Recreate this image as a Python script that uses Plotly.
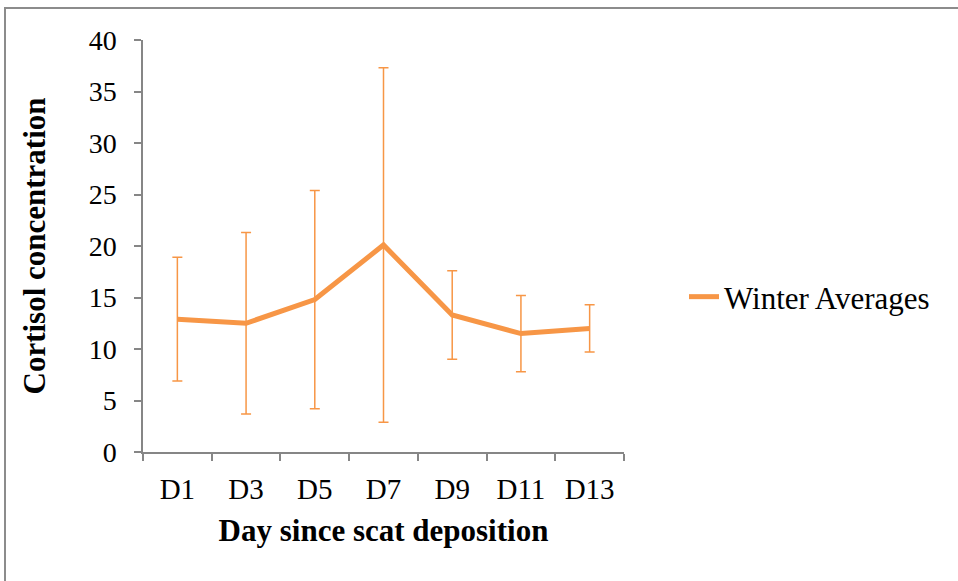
import plotly.graph_objects as go

days = ["D1", "D3", "D5", "D7", "D9", "D11", "D13"]
winter_avg = [12.9, 12.5, 14.8, 20.1, 13.3, 11.5, 12.0]
winter_err = [6.0, 8.8, 10.6, 17.2, 4.3, 3.7, 2.3]

ORANGE = "#F79646"
GRAY = "#868686"
FONT = "Liberation Serif, Times New Roman, serif"

fig = go.Figure()
fig.add_trace(go.Scatter(
    x=days, y=winter_avg, mode="lines", name="Winter Averages",
    line=dict(color=ORANGE, width=5),
    error_y=dict(type="data", array=winter_err, visible=True,
                 color=ORANGE, thickness=1.5, width=5),
))

L, R, T, B = 143, 334, 40, 129
W, H = 958, 581
pw, ph = W - L - R, H - T - B

def px_x(p):
    return (p - L) / pw

def px_y(p):
    return (H - B - p) / ph

fig.add_shape(type="rect", xref="paper", yref="paper",
              x0=px_x(5), x1=px_x(965), y0=px_y(590), y1=px_y(8),
              line=dict(color="#8c8c8c", width=2), fillcolor="rgba(0,0,0,0)")

fig.update_layout(
    width=W, height=H,
    margin=dict(l=L, r=R, t=T, b=B),
    paper_bgcolor="white", plot_bgcolor="white",
    font=dict(family=FONT, color="black", size=30),
    showlegend=True,
    legend=dict(x=px_x(684), y=px_y(297), xanchor="left", yanchor="middle",
                font=dict(family=FONT, size=31), bgcolor="rgba(0,0,0,0)",
                itemwidth=30),
    xaxis=dict(
        type="category", showgrid=False, showline=True, linecolor=GRAY, linewidth=1.5,
        ticks="outside", tickson="boundaries", ticklen=7, tickcolor=GRAY, tickwidth=1.5,
        tickfont=dict(family=FONT, size=29), ticklabelstandoff=10,
        title=dict(text="<b>Day since scat deposition</b>", font=dict(family=FONT, size=31), standoff=16),
        range=[-0.5, 6.5],
    ),
    yaxis=dict(
        range=[0, 40], dtick=5, showgrid=False, showline=True, linecolor=GRAY, linewidth=1.5,
        ticks="outside", ticklen=7, tickcolor=GRAY, tickwidth=1.5,
        tickfont=dict(family=FONT, size=28), zeroline=False, ticklabelstandoff=12,
        title=dict(text="<b>Cortisol concentration</b>", font=dict(family=FONT, size=31), standoff=34),
    ),
)

fig.write_html("out.html", config={"displayModeBar": False},
               post_script="document.body.style.margin='0';")
